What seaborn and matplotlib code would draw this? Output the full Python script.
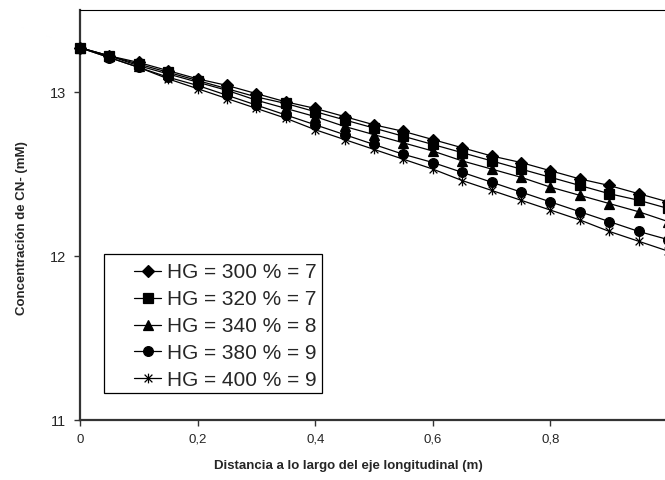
import numpy as np
import pandas as pd
import matplotlib
matplotlib.use("Agg")
import matplotlib.pyplot as plt
from matplotlib.path import Path
from matplotlib.patches import Rectangle
import seaborn as sns

distancia = [0, 0.05, 0.1, 0.15, 0.2, 0.25, 0.3, 0.35, 0.4, 0.45, 0.5,
             0.55, 0.6, 0.65, 0.7, 0.75, 0.8, 0.85, 0.9, 0.95, 1.0]
hg300 = [13.27, 13.22, 13.18, 13.13, 13.08, 13.04, 12.99, 12.94, 12.90, 12.85, 12.80,
         12.76, 12.71, 12.66, 12.61, 12.57, 12.52, 12.47, 12.43, 12.38, 12.33]
hg320 = [13.27, 13.22, 13.17, 13.12, 13.07, 13.02, 12.97, 12.93, 12.88, 12.83, 12.78,
         12.73, 12.68, 12.63, 12.58, 12.53, 12.48, 12.43, 12.38, 12.34, 12.29]
hg340 = [13.27, 13.22, 13.16, 13.11, 13.06, 13.01, 12.95, 12.90, 12.85, 12.79, 12.74,
         12.69, 12.64, 12.58, 12.53, 12.48, 12.42, 12.37, 12.32, 12.27, 12.21]
hg380 = [13.27, 13.21, 13.15, 13.09, 13.04, 12.98, 12.92, 12.86, 12.80, 12.74, 12.68,
         12.62, 12.57, 12.51, 12.45, 12.39, 12.33, 12.27, 12.21, 12.15, 12.10]
hg400 = [13.27, 13.21, 13.15, 13.08, 13.02, 12.96, 12.90, 12.84, 12.77, 12.71, 12.65,
         12.59, 12.53, 12.46, 12.40, 12.34, 12.28, 12.22, 12.15, 12.09, 12.03]
labels = ["HG = 300 % = 7", "HG = 320 % = 7", "HG = 340 % = 8",
          "HG = 380 % = 9", "HG = 400 % = 9"]
xticks = [0, 0.2, 0.4, 0.6, 0.8, 1.0]
xticklabels = ["0", "0,2", "0,4", "0,6", "0,8", "1"]
yticks = [11, 12, 13]

series = [hg300, hg320, hg340, hg380, hg400]

sns.set_style("white")
plt.rcParams['font.family'] = ['Liberation Sans', 'DejaVu Sans']

fig = plt.figure(figsize=(6.65, 4.8), dpi=100)
W, H = 665.0, 480.0
ax = fig.add_axes([80 / W, 60 / H, (668 - 80) / W, (420 - 10) / H])

star = Path([(0, -1), (0, 1), (-0.8, -0.8), (0.8, 0.8), (-0.8, 0.8), (0.8, -0.8)],
            [Path.MOVETO, Path.LINETO, Path.MOVETO, Path.LINETO, Path.MOVETO, Path.LINETO])
markers = ["D", "s", "^", "o", star]
msizes = [6.0, 6.5, 7.0, 7.0, 7.0]

for vals, lab, mk, ms in zip(series, labels, markers, msizes):
    df = pd.DataFrame({"x": distancia, "y": vals})
    sns.lineplot(data=df, x="x", y="y", ax=ax, color="black", linewidth=0.9,
                 marker=mk, markersize=ms, markeredgecolor="black",
                 markerfacecolor="black", markeredgewidth=0.9, label=lab,
                 clip_on=False)

ax.set_xlim(0, 1.0)
ax.set_ylim(11, 13.5)
ax.set_xticks(xticks)
ax.set_xticklabels(xticklabels)
ax.set_yticks(yticks)
ax.tick_params(axis="both", direction="out", length=4, width=1, color="#333333",
               labelsize=9.5, pad=6, bottom=True, left=True)
ax.tick_params(axis="y", labelsize=10.5)
for s in ["left", "bottom"]:
    ax.spines[s].set_linewidth(1.6)
    ax.spines[s].set_color("#333333")
    ax.spines[s].set_zorder(0.5)
ax.spines["top"].set_linewidth(0.8)
ax.spines["top"].set_color("black")
ax.spines["right"].set_visible(False)
ax.set_xlabel("")
ax.set_ylabel("")

fig.text(348 / W, 1 - 466 / H, "Distancia a lo largo del eje longitudinal (m)",
         ha="center", va="center", fontsize=9.5, fontweight="bold")
fig.text(22 / W, 1 - 228 / H, "Concentración de CN- (mM)", rotation=90,
         ha="center", va="center", fontsize=9.5, fontweight="bold")

leg = ax.legend(loc="upper left", bbox_to_anchor=(134 / W, 1 - 263 / H),
                bbox_transform=fig.transFigure, frameon=False, fontsize=15,
                handlelength=1.3, handletextpad=0.3, labelspacing=0.38,
                borderpad=0.0, borderaxespad=0.0)
leg.set_zorder(6)
rect = Rectangle((104 / W, 1 - 393 / H), (322 - 104) / W, (393 - 254) / H,
                 transform=fig.transFigure, fill=True, facecolor="white",
                 edgecolor="black", linewidth=0.9, zorder=5, clip_on=False)
ax.add_patch(rect)

fig.savefig("out.png", dpi=100)
